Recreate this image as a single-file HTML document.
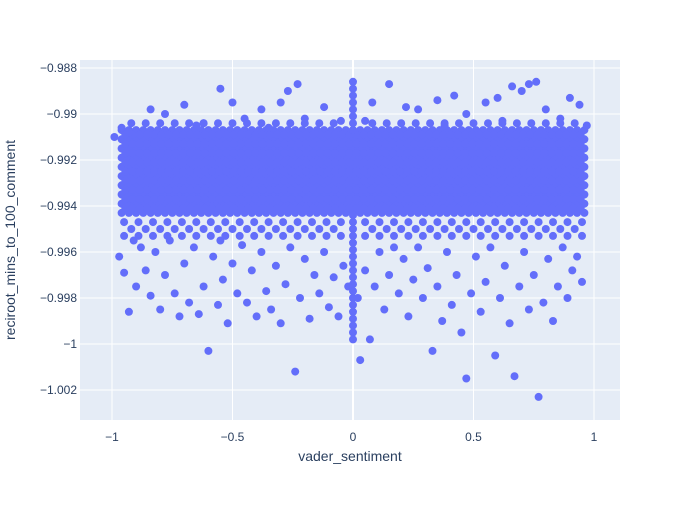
<!DOCTYPE html>
<html><head><meta charset="utf-8"><style>
body{margin:0;background:#fff}
svg text{font-family:"Liberation Sans",sans-serif;fill:#2a3f5f}
</style></head><body>
<svg id="chart" width="700" height="500" xmlns="http://www.w3.org/2000/svg">
<rect x="80" y="60" width="540" height="360" fill="#e5ecf6"/>
<g id="grid"></g>
<g id="pts"></g>
<g id="axes"></g>
<text x="350" y="461" text-anchor="middle" font-size="14">vader_sentiment</text>
<text transform="translate(15,240) rotate(-90)" text-anchor="middle" font-size="14">reciroot_mins_to_100_comment</text>
</svg>
<script>
const xTicks=[-1,-0.5,0,0.5,1];
const xTickLabels=["−1","−0.5","0","0.5","1"];
const yTicks=[-0.988,-0.99,-0.992,-0.994,-0.996,-0.998,-1,-1.002];
const yTickLabels=["−0.988","−0.99","−0.992","−0.994","−0.996","−0.998","−1","−1.002"];
const bandXA=[-0.96,-0.93,-0.9,-0.87,-0.84,-0.81,-0.78,-0.75,-0.72,-0.69,-0.66,-0.63,-0.6,-0.57,-0.54,-0.51,-0.48,-0.45,-0.42,-0.39,-0.36,-0.33,-0.3,-0.27,-0.24,-0.21,-0.18,-0.15,-0.12,-0.09,-0.06,-0.03,0,0.03,0.06,0.09,0.12,0.15,0.18,0.21,0.24,0.27,0.3,0.33,0.36,0.39,0.42,0.45,0.48,0.51,0.54,0.57,0.6,0.63,0.66,0.69,0.72,0.75,0.78,0.81,0.84,0.87,0.9,0.93,0.96];
const bandXB=[-0.945,-0.915,-0.885,-0.855,-0.825,-0.795,-0.765,-0.735,-0.705,-0.675,-0.645,-0.615,-0.585,-0.555,-0.525,-0.495,-0.465,-0.435,-0.405,-0.375,-0.345,-0.315,-0.285,-0.255,-0.225,-0.195,-0.165,-0.135,-0.105,-0.075,-0.045,-0.015,0.015,0.045,0.075,0.105,0.135,0.165,0.195,0.225,0.255,0.285,0.315,0.345,0.375,0.405,0.435,0.465,0.495,0.525,0.555,0.585,0.615,0.645,0.675,0.705,0.735,0.765,0.795,0.825,0.855,0.885,0.915,0.945];
const bandYA=[-0.9907,-0.9911,-0.9915,-0.9919,-0.9923,-0.9927,-0.9931,-0.9935,-0.9939,-0.9943];
const bandYB=[-0.9909,-0.9913,-0.9917,-0.9921,-0.9925,-0.9929,-0.9933,-0.9937,-0.9941];
const edgeX=[-0.95,-0.89,-0.83,-0.77,-0.71,-0.65,-0.59,-0.53,-0.47,-0.41,-0.35,-0.29,-0.23,-0.17,-0.11,-0.05,0.05,0.11,0.17,0.23,0.29,0.35,0.41,0.47,0.53,0.59,0.65,0.71,0.77,0.83,0.89,0.95];
const edgeX2=[-0.92,-0.86,-0.8,-0.74,-0.68,-0.62,-0.56,-0.5,-0.44,-0.38,-0.32,-0.26,-0.2,-0.14,-0.08,0.08,0.14,0.2,0.26,0.32,0.38,0.44,0.5,0.56,0.62,0.68,0.74,0.8,0.86,0.92];
const edgeY=[-0.9947,-0.9953];
const edgeY2=[-0.9950,-0.9904];
const zeroY=[-0.9886,-0.9889,-0.9892,-0.9895,-0.9898,-0.9901,-0.9904,-0.9907,-0.9944,-0.9947,-0.995,-0.9953,-0.9956,-0.9959,-0.9962,-0.9965,-0.9968,-0.9971,-0.9974,-0.9977,-0.998,-0.9983,-0.9986,-0.9989,-0.9992,-0.9995,-0.9998];
const scatX=[-0.99,-0.96,-0.93,-0.84,-0.78,-0.7,-0.62,-0.55,-0.5,-0.45,-0.38,-0.3,-0.27,-0.23,-0.2,-0.12,-0.05,0.08,0.15,0.22,0.27,0.35,0.42,0.47,0.55,0.6,0.66,0.7,0.73,0.76,0.8,0.86,0.9,0.94,0.97,-0.65,0.05,0.62,0.38,-0.35,
-0.97,-0.95,-0.93,-0.9,-0.88,-0.86,-0.84,-0.82,-0.8,-0.78,-0.76,-0.74,-0.72,-0.7,-0.68,-0.66,-0.64,-0.62,-0.6,-0.58,-0.56,-0.54,-0.52,-0.5,-0.48,-0.46,-0.44,-0.42,-0.4,-0.38,-0.36,-0.34,-0.32,-0.3,-0.28,-0.26,-0.24,-0.22,-0.2,-0.18,-0.16,-0.14,-0.12,-0.1,-0.08,-0.06,-0.04,-0.02,0.02,0.03,0.05,0.07,0.09,0.11,0.13,0.15,0.17,0.19,0.21,0.23,0.25,0.27,0.29,0.31,0.33,0.35,0.37,0.39,0.41,0.43,0.45,0.47,0.49,0.51,0.53,0.55,0.57,0.59,0.61,0.63,0.65,0.67,0.69,0.71,0.73,0.75,0.77,0.79,0.81,0.83,0.85,0.87,0.89,0.91,0.93,0.95,-0.91,-0.55];
const scatY=[-0.991,-0.9906,-0.9908,-0.9898,-0.99,-0.9896,-0.9904,-0.9889,-0.9895,-0.9902,-0.9898,-0.9895,-0.989,-0.9887,-0.9902,-0.9897,-0.9903,-0.9895,-0.9887,-0.9897,-0.9898,-0.9894,-0.9892,-0.99,-0.9895,-0.9893,-0.9888,-0.989,-0.9887,-0.9886,-0.9898,-0.9902,-0.9893,-0.9896,-0.9905,-0.9905,-0.9903,-0.9903,-0.9905,-0.9906,
-0.9962,-0.9969,-0.9986,-0.9975,-0.9958,-0.9968,-0.9979,-0.996,-0.9985,-0.997,-0.9955,-0.9978,-0.9988,-0.9965,-0.9982,-0.9958,-0.9987,-0.9975,-1.0003,-0.9962,-0.9983,-0.9972,-0.9991,-0.9965,-0.9978,-0.9957,-0.9982,-0.9968,-0.9988,-0.996,-0.9977,-0.9985,-0.9966,-0.9991,-0.9974,-0.9958,-1.0012,-0.998,-0.9963,-0.9989,-0.997,-0.9978,-0.996,-0.9984,-0.9971,-0.9988,-0.9966,-0.9975,-0.998,-1.0007,-0.9968,-0.9998,-0.9975,-0.996,-0.9985,-0.997,-0.9958,-0.9978,-0.9963,-0.9988,-0.9972,-0.9958,-0.998,-0.9967,-1.0003,-0.9975,-0.999,-0.996,-0.9983,-0.997,-0.9995,-1.0015,-0.9978,-0.9962,-0.9986,-0.9973,-0.9958,-1.0005,-0.998,-0.9966,-0.9991,-1.0014,-0.9975,-0.996,-0.9985,-0.997,-1.0023,-0.9982,-0.9963,-0.999,-0.9975,-0.9958,-0.998,-0.9968,-0.9962,-0.9973,-0.9955,-0.9955];

const X0=80,X1=620,Y0=60,Y1=420;
const xs=v=>353+v*241;
const ys=v=>344-(v+1)/0.002*46;
const NS='http://www.w3.org/2000/svg';
const grid=document.getElementById('grid'),axes=document.getElementById('axes'),pts=document.getElementById('pts');
function mk(tag,at,parent){const e=document.createElementNS(NS,tag);for(const k in at)e.setAttribute(k,at[k]);parent.appendChild(e);return e;}
xTicks.forEach((t,i)=>{
  const l=mk('line',{x1:xs(t),x2:xs(t),y1:Y0,y2:Y1,stroke:'#fff','stroke-width':t===0?2:1},grid);
  
  
  const tx=mk('text',{x:xs(t),y:441,'text-anchor':'middle','font-size':12},axes);
  tx.textContent=xTickLabels[i];
  
  
});
yTicks.forEach((t,i)=>{
  const l=mk('line',{x1:X0,x2:X1,y1:ys(t),y2:ys(t),stroke:'#fff','stroke-width':1},grid);
  
  
  const tx=mk('text',{x:77,y:ys(t)+4,'text-anchor':'end','font-size':12},axes);
  tx.textContent=yTickLabels[i];
  
  
});
function dot(x,y){
  const c=mk('circle',{cx:xs(x).toFixed(1),cy:ys(y).toFixed(1),r:4,fill:'#636efa'},pts);
  
  
}
bandYA.forEach(y=>bandXA.forEach(x=>dot(x,y)));
bandYB.forEach(y=>bandXB.forEach(x=>dot(x,y)));
edgeY.forEach(y=>edgeX.forEach(x=>dot(x,y)));
edgeY2.forEach(y=>edgeX2.forEach(x=>dot(x,y)));
zeroY.forEach(y=>dot(0,y));
scatX.forEach((x,i)=>dot(x,scatY[i]));
</script>
</body></html>
